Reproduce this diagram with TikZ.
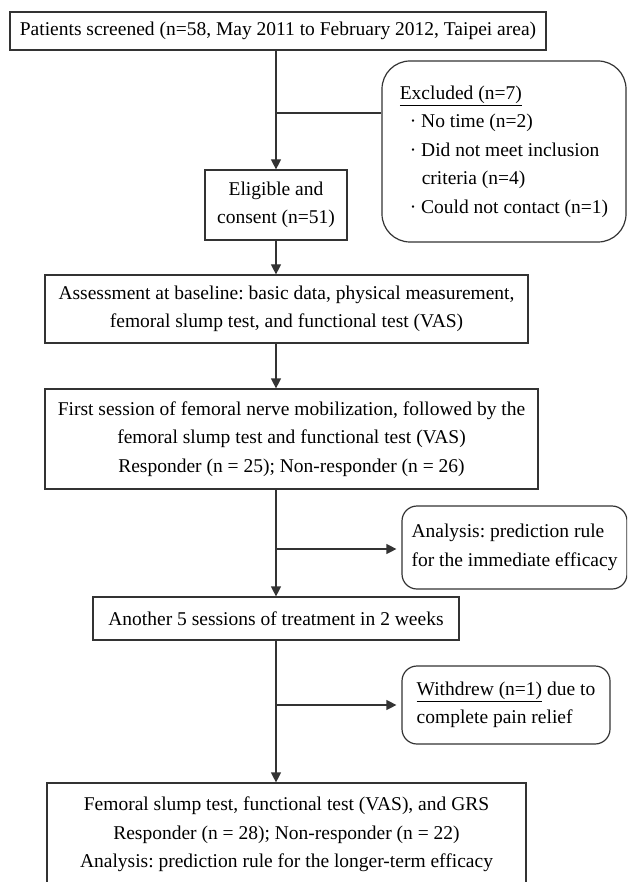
\documentclass[tikz,border=0pt]{standalone}
\usepackage{fontspec}
\setmainfont{Liberation Serif}
\usetikzlibrary{positioning,arrows.meta}
\frenchspacing

\begin{document}
\begin{tikzpicture}[x=1pt,y=-1pt,
	box/.style={draw=black!80, line width=1.2pt, inner sep=0pt, align=center, font=\fontsize{19.5}{28.5}\selectfont},
	rbox/.style={box, align=left, rounded corners=15pt},
	arr/.style={draw=black!80, line width=1.2pt, -{Triangle[length=10pt,width=10pt]}}]

		\clip (0,0) rectangle (627,882);

		% Screening and exclusion
		\node[box, minimum width=536pt, minimum height=38pt] (screen) at (278,31) {Patients screened (n=58, May 2011 to February 2012, Taipei area)};
		\node[rbox, rounded corners=28pt, minimum width=244pt, minimum height=181pt] (excl) at (504,151.5)
			{\underline{Excluded (n=7)}\\
			\hspace*{10pt}· No time (n=2)\\
			\hspace*{10pt}· Did not meet inclusion\\
			\hspace*{22pt}criteria (n=4)\\
			\hspace*{10pt}· Could not contact (n=1)};
		\node[box, minimum width=142pt, minimum height=70pt] (elig) at (276,205) {Eligible and\\consent (n=51)};

		% Baseline and first session
		\node[box, minimum width=483pt, minimum height=68pt] (base) at (286.5,309) {Assessment at baseline: basic data, physical measurement,\\femoral slump test, and functional test (VAS)};
		\node[box, minimum width=493pt, minimum height=100pt] (first) at (291.5,439) {First session of femoral nerve mobilization, followed by the\\femoral slump test and functional test (VAS)\\Responder (n = 25); Non-responder (n = 26)};
		\node[rbox, minimum width=225pt, minimum height=83pt] (immed) at (514.5,547.5) {Analysis: prediction rule\\for the immediate efficacy};

		% Further treatment
		\node[box, minimum width=366pt, minimum height=43pt] (more) at (276,618.5) {Another 5 sessions of treatment in 2 weeks};
		\node[rbox, minimum width=208pt, minimum height=78pt] (withd) at (506,705) {\underline{Withdrew (n=1)} due to\\complete pain relief};
		\node[box, minimum width=479pt, minimum height=103pt] (final) at (286.5,834.5) {Femoral slump test, functional test (VAS), and GRS\\Responder (n = 28); Non-responder (n = 22)\\Analysis: prediction rule for the longer-term efficacy};

		% Main flow
		\draw[arr] (screen.south -| elig.north) -- (elig.north);
		\draw[arr] (elig.south) -- (elig.south |- base.north);
		\draw[arr] (base.south -| elig.south) -- (first.north -| elig.south);
		\draw[arr] (first.south -| more.north) -- (more.north);
		\draw[arr] (more.south) -- (more.south |- final.north);

		% Side branches
		\coordinate (j1) at (276,113);
		\coordinate (j2) at (276,549);
		\coordinate (j3) at (276,705);
		\draw[draw=black!80, line width=1.2pt] (j1) -- (j1 -| excl.west);
		\draw[arr, shorten >=5pt] (j2) -- (j2 -| immed.west);
		\draw[arr, shorten >=5pt] (j3) -- (j3 -| withd.west);

	\end{tikzpicture}
\end{document}
